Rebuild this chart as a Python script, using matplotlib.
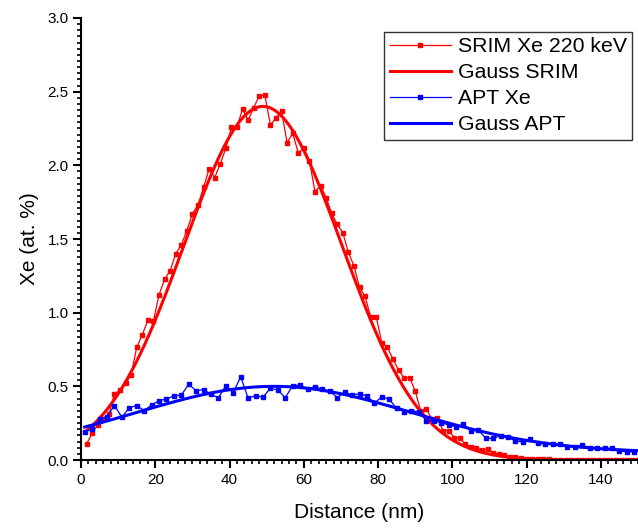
import numpy as np
import matplotlib
matplotlib.use("Agg")
import matplotlib.pyplot as plt
from matplotlib.ticker import MultipleLocator, AutoMinorLocator

plt.rcParams['font.family'] = ['Liberation Sans', 'DejaVu Sans']

# SRIM data: x = 1.5, 3.0, ..., 150
srim_x = [1.5 * k for k in range(1, 101)]
srim_y = [0.11, 0.18, 0.24, 0.28, 0.31, 0.45, 0.475, 0.52, 0.58, 0.765,
          0.85, 0.95, 0.945, 1.12, 1.227, 1.285, 1.40, 1.46, 1.557, 1.672,
          1.731, 1.851, 1.976, 1.917, 2.01, 2.116, 2.259, 2.259, 2.383, 2.306,
          2.392, 2.471, 2.475, 2.274, 2.32, 2.369, 2.154, 2.218, 2.086, 2.116,
          2.032, 1.822, 1.862, 1.781, 1.675, 1.60, 1.543, 1.41, 1.317, 1.172,
          1.11, 0.973, 0.973, 0.796, 0.765, 0.686, 0.609, 0.559, 0.559, 0.468,
          0.333, 0.346, 0.278, 0.283, 0.20, 0.20, 0.152, 0.15, 0.108, 0.09,
          0.084, 0.068, 0.072, 0.05, 0.038, 0.034, 0.023, 0.018, 0.011, 0.007,
          0.005, 0.005, 0.004, 0.004, 0.003, 0.003, 0.003, 0.002, 0.002, 0.002,
          0.002, 0.001, 0.001, 0.001, 0.001, 0.001, 0.001, 0.001, 0.001, 0.001]

# APT data: x = 1, 3, ..., 149
apt_x = [2 * k - 1 for k in range(1, 76)]
apt_y = [0.19, 0.21, 0.28, 0.295, 0.37, 0.29, 0.355, 0.37, 0.335, 0.373,
         0.403, 0.414, 0.435, 0.441, 0.514, 0.47, 0.478, 0.446, 0.423, 0.505,
         0.457, 0.566, 0.419, 0.437, 0.426, 0.487, 0.475, 0.423, 0.505, 0.509,
         0.482, 0.498, 0.48, 0.468, 0.423, 0.46, 0.441, 0.45, 0.436, 0.385,
         0.43, 0.412, 0.351, 0.328, 0.333, 0.328, 0.265, 0.267, 0.253, 0.238,
         0.226, 0.242, 0.198, 0.204, 0.147, 0.147, 0.165, 0.158, 0.127, 0.124,
         0.14, 0.118, 0.109, 0.106, 0.109, 0.09, 0.09, 0.102, 0.084, 0.079,
         0.079, 0.079, 0.061, 0.056, 0.056]

# Gaussian fit parameters (y0, A, xc, sigma)
gauss_srim = (0.0, 2.40, 49.0, 21.3)
gauss_apt = (0.05, 0.45, 52.0, 37.0)

labels = ["SRIM Xe 220 keV", "Gauss SRIM", "APT Xe", "Gauss APT"]


def gauss(x, p):
    y0, a, xc, s = p
    return y0 + a * np.exp(-(x - xc) ** 2 / (2 * s ** 2))


fig = plt.figure(figsize=(6.38, 5.29), dpi=100)
ax = fig.add_axes([0.127, 0.1304, 0.873, 0.8356])

xf = np.linspace(1, 150, 600)
ax.plot(srim_x, srim_y, '-s', color='#ff0000', lw=0.9, ms=3, label=labels[0])
ax.plot(xf, gauss(xf, gauss_srim), '-', color='#ff0000', lw=2.2, label=labels[1])
ax.plot(apt_x, apt_y, '-s', color='#0000ff', lw=0.9, ms=3, label=labels[2])
ax.plot(xf, gauss(xf, gauss_apt), '-', color='#0000ff', lw=2.2, label=labels[3])

ax.set_xlim(0, 150)
ax.set_ylim(0, 3.0)
ax.xaxis.set_major_locator(MultipleLocator(20))
ax.xaxis.set_minor_locator(MultipleLocator(2))
ax.yaxis.set_major_locator(MultipleLocator(0.5))
ax.yaxis.set_minor_locator(AutoMinorLocator(12))
ax.yaxis.set_major_formatter(plt.FuncFormatter(lambda v, p: f"{v:.1f}"))

for s in ['top', 'right']:
    ax.spines[s].set_visible(False)
for s in ['left', 'bottom']:
    ax.spines[s].set_linewidth(1.5)

ax.tick_params(which='major', direction='out', length=6, width=1.5, labelsize=11, pad=3)
ax.tick_params(which='minor', direction='out', length=3, width=1.2)

ax.set_xlabel("Distance (nm)", fontsize=15, labelpad=12)
ax.set_ylabel("Xe (at. %)", fontsize=15, labelpad=6)

leg = ax.legend(loc='upper right', bbox_to_anchor=(0.989, 0.968), borderaxespad=0,
                fontsize=15.3, frameon=True, fancybox=False, handlelength=2.9,
                handletextpad=0.3, labelspacing=0.33, borderpad=0.25, markerscale=0.9)
leg.get_frame().set_edgecolor('black')
leg.get_frame().set_linewidth(1.0)

fig.savefig("out.png", dpi=100)
